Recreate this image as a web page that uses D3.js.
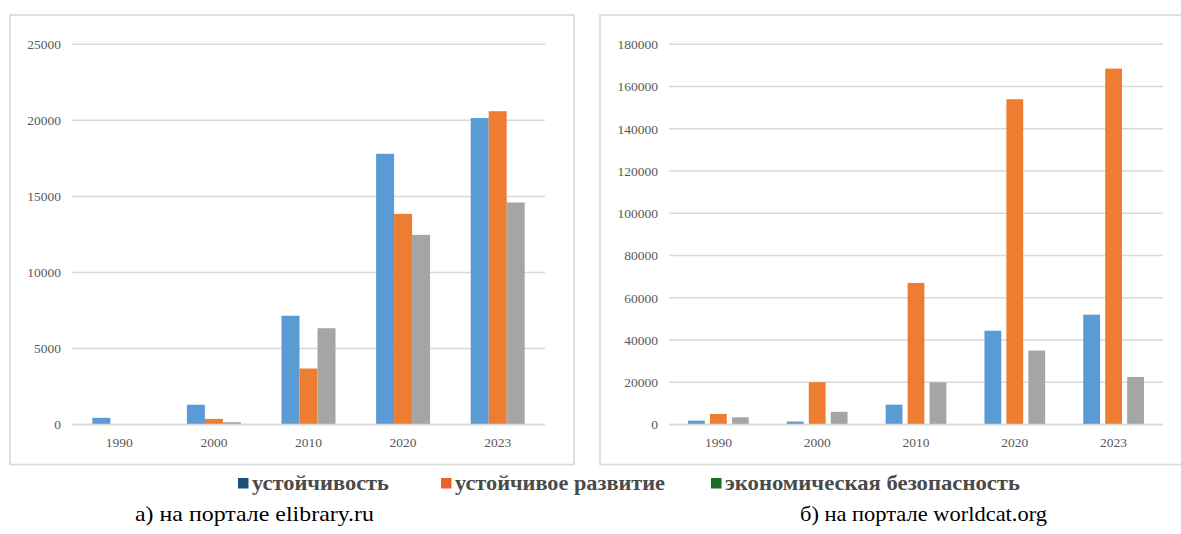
<!DOCTYPE html>
<html>
<head>
<meta charset="utf-8">
<script src="https://cdn.jsdelivr.net/npm/d3@7"></script>
<style>
  html, body { margin: 0; padding: 0; background: #fff; }
  svg { display: block; }
  svg text { font-family: "Liberation Serif", "Times New Roman", "DejaVu Serif", serif; }
</style>
</head>
<body>
<svg id="chart" width="1181" height="534"></svg>
<script>
// ---- data ----
const categories = ["1990", "2000", "2010", "2020", "2023"];
const seriesNames = ["устойчивость", "устойчивое развитие", "экономическая безопасность"];

// a) elibrary.ru
const elibSustainability = [440, 1300, 7150, 17800, 20150];
const elibSustDevelopment = [0, 370, 3680, 13850, 20600];
const elibEconSecurity = [0, 150, 6330, 12470, 14600];
const elibTicks = [0, 5000, 10000, 15000, 20000, 25000];

// b) worldcat.org
const wcSustainability = [1800, 1400, 9400, 44400, 52000];
const wcSustDevelopment = [5000, 20000, 67000, 154000, 168500];
const wcEconSecurity = [3400, 6000, 20000, 35000, 22500];
const wcTicks = [0, 20000, 40000, 60000, 80000, 100000, 120000, 140000, 160000, 180000];

const captions = ["а) на портале elibrary.ru", "б) на портале worldcat.org"];

// ---- styles ----
const barColors = ["#5b9bd5", "#ed7d31", "#a5a5a5"];
const legendColors = ["#1f4e79", "#e8622a", "#1e6b24"];

const svg = d3.select("#chart");
svg.append("rect").attr("width", 1181).attr("height", 534).attr("fill", "#fff");

function panel(opts) {
  const g = svg.append("g");
  g.append("rect")
    .attr("x", opts.frame[0]).attr("y", opts.frame[1])
    .attr("width", opts.frame[2]).attr("height", opts.frame[3])
    .attr("fill", "none").attr("stroke", "#d9d9d9").attr("stroke-width", 1.6);

  const y = d3.scaleLinear().domain([0, opts.max]).range([424.5, 44.3]);
  const x0 = d3.scaleBand().domain(categories).range(opts.xr).padding(0);
  const x1 = d3.scaleBand().domain(d3.range(3)).range([0, opts.groupW]).paddingInner(opts.innerPad);

  g.append("g").selectAll("line").data(opts.ticks).join("line")
    .attr("x1", opts.xr[0]).attr("x2", opts.xr[1])
    .attr("y1", d => y(d)).attr("y2", d => y(d))
    .attr("stroke", "#d9d9d9").attr("stroke-width", 1.5);

  const yAxis = d3.axisLeft(y).tickValues(opts.ticks).tickSize(0).tickPadding(0).tickFormat(d3.format("d"));
  const ya = g.append("g").attr("transform", `translate(${opts.xr[0] - 11},0)`).call(yAxis);
  ya.attr("font-family", null);
  ya.select(".domain").remove();
  ya.selectAll("text").style("font-size", "13.5px").attr("fill", "#595959");

  const data = [];
  opts.series.forEach((vals, si) => {
    vals.forEach((v, ci) => data.push({ c: categories[ci], s: si, v }));
  });
  const off = (x0.bandwidth() - opts.groupW) / 2;
  g.append("g").selectAll("rect").data(data.filter(d => d.v > 0)).join("rect")
    .attr("x", d => x0(d.c) + off + x1(d.s))
    .attr("width", x1.bandwidth())
    .attr("y", d => y(d.v))
    .attr("height", d => y(0) - y(d.v))
    .attr("fill", d => barColors[d.s]);

  const xAxis = d3.axisBottom(x0).tickSize(0).tickPadding(0);
  const xa = g.append("g").attr("transform", `translate(0,${y(0)})`).call(xAxis);
  xa.attr("font-family", null);
  xa.select(".domain").remove();
  xa.selectAll("text").style("font-size", "13.5px").attr("fill", "#595959")
    .attr("dy", null).attr("y", 22);

  g.append("line").attr("x1", opts.xr[0]).attr("x2", opts.xr[1])
    .attr("y1", y(0)).attr("y2", y(0)).attr("stroke", "#d9d9d9").attr("stroke-width", 1.5);
}

panel({
  frame: [10, 15, 564, 449.5],
  xr: [72, 545],
  max: 25000,
  ticks: elibTicks,
  series: [elibSustainability, elibSustDevelopment, elibEconSecurity],
  groupW: 54,
  innerPad: 0
});

panel({
  frame: [600, 15, 600, 449.5],
  xr: [669, 1163],
  max: 180000,
  ticks: wcTicks,
  series: [wcSustainability, wcSustDevelopment, wcEconSecurity],
  groupW: 60.7,
  innerPad: 0.234
});

// legend
const legendX = [238, 441, 711];
const legendW = [137, 210, 295];
const lg = svg.append("g");
seriesNames.forEach((name, i) => {
  lg.append("rect").attr("x", legendX[i]).attr("y", 478).attr("width", 10.5).attr("height", 10.5)
    .attr("fill", legendColors[i]);
  lg.append("text").attr("x", legendX[i] + 14).attr("y", 489.5)
    .style("font-size", "21px").style("font-weight", "bold")
    .attr("textLength", legendW[i]).attr("lengthAdjust", "spacingAndGlyphs")
    .attr("fill", "#4a4a4a").text(name);
});

// captions
const capX = [135, 800];
const capW = [239, 247];
captions.forEach((c, i) => {
  svg.append("text").attr("x", capX[i]).attr("y", 521)
    .style("font-size", "22px")
    .attr("textLength", capW[i]).attr("lengthAdjust", "spacingAndGlyphs")
    .attr("fill", "#000").text(c);
});
</script>
</body>
</html>
